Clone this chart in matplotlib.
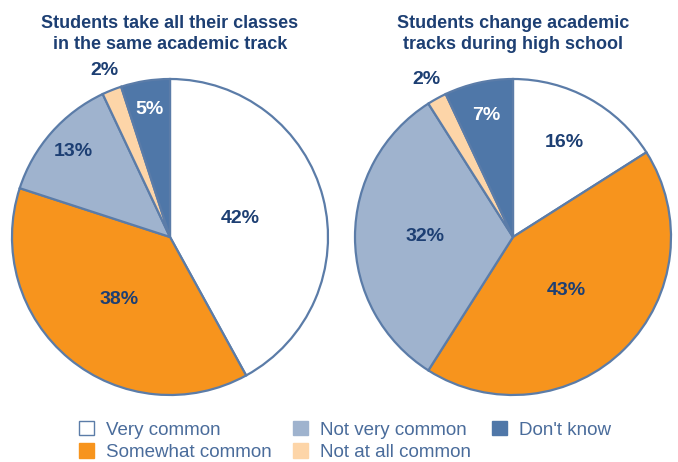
import numpy as np
import matplotlib
matplotlib.use("Agg")
import matplotlib.pyplot as plt
from matplotlib.patches import Patch

plt.rcParams['font.family'] = ['Liberation Sans', 'DejaVu Sans']

categories = ["Very common", "Somewhat common", "Not very common", "Not at all common", "Don't know"]
same_track = [42, 38, 13, 2, 5]
change_track = [16, 43, 32, 2, 7]
titles = ["Students take all their classes\nin the same academic track",
          "Students change academic\ntracks during high school"]

# label distance from centre, per slice (fraction of radius)
label_r = [[0.46, 0.51, 0.82, 1.13, 0.82],
           [0.68, 0.48, 0.56, 1.14, 0.79]]

colors = ['#FFFFFF', '#F7941D', '#9FB3CE', '#FDD5A8', '#4F77A8']
edge = '#5B7CA8'
navy = '#1D3F73'
# white text on the dark "Don't know" slice
label_colors = [navy, navy, navy, navy, 'white']

fig = plt.figure(figsize=(6.78, 4.62), dpi=100)

R = 158
centers = [(170, 237), (513, 237)]
W, H = 678, 462

for i, (vals, cxy) in enumerate(zip([same_track, change_track], centers)):
    cx, cy = cxy
    ax = fig.add_axes([(cx - R) / W, (H - cy - R) / H, 2 * R / W, 2 * R / H])
    wedges, _ = ax.pie(vals, colors=colors, startangle=90, counterclock=False,
                       wedgeprops=dict(edgecolor=edge, linewidth=1.6))
    ax.set_xlim(-1, 1)
    ax.set_ylim(-1, 1)
    ax.set_aspect('equal')
    ax.axis('off')
    for w, v, r, lc in zip(wedges, vals, label_r[i], label_colors):
        ang = np.deg2rad((w.theta1 + w.theta2) / 2)
        ax.text(r * np.cos(ang), r * np.sin(ang), f"{v}%", ha='center', va='center',
                fontsize=14, fontweight='bold', color=lc)
    fig.text(cx / W, 1 - 34 / H, titles[i], ha='center', va='center', fontsize=13,
             fontweight='bold', color=navy, linespacing=1.3)

handles = [Patch(facecolor=c, edgecolor=edge if c == '#FFFFFF' else c, linewidth=1.0) for c in colors]
leg = fig.legend(handles, categories, ncol=3, loc='center', bbox_to_anchor=(345 / W, 1 - 441 / H),
                 frameon=False, fontsize=13.5, handlelength=0.8, handleheight=0.8,
                 columnspacing=1.1, labelspacing=0.25, handletextpad=0.65)
for t in leg.get_texts():
    t.set_color('#4A6C9B')

fig.savefig('out.png', dpi=100)
